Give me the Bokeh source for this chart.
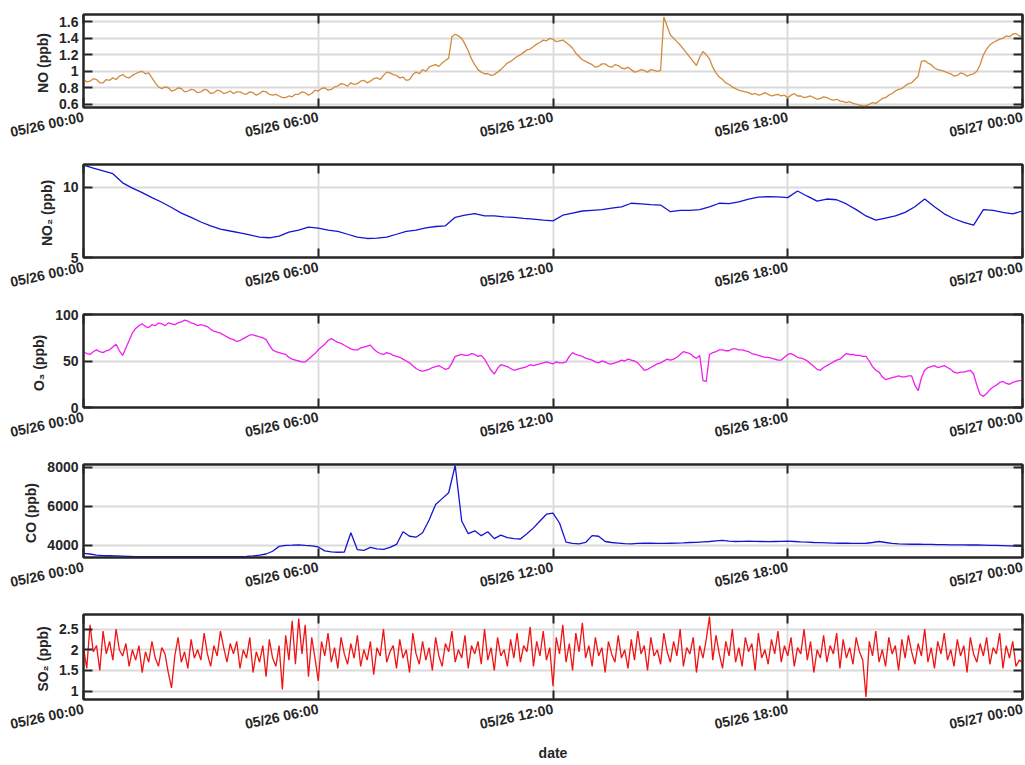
import pandas as pd
from bokeh.plotting import figure
from bokeh.layouts import column
from bokeh.models import (Range1d, FixedTicker, DatetimeAxis, LinearAxis,
                          DatetimeTickFormatter, CustomJSTickFormatter)
from bokeh.embed import file_html
from bokeh.resources import INLINE

# ---------------- data ----------------
START = "2023-05-26 00:00"
END = "2023-05-27 00:00"
X_TICKS = ["2023-05-26 00:00", "2023-05-26 06:00", "2023-05-26 12:00",
           "2023-05-26 18:00", "2023-05-27 00:00"]

# NO (ppb), every 5 minutes
no_vals = [
    0.91, 0.87, 0.88, 0.91, 0.90, 0.86, 0.86, 0.90, 0.89, 0.92, 0.90, 0.94,
    0.96, 0.93, 0.92, 0.95, 0.97, 0.99, 1.00, 0.97, 0.98, 0.92, 0.86, 0.81,
    0.79, 0.81, 0.80, 0.76, 0.77, 0.80, 0.79, 0.75, 0.76, 0.78, 0.77, 0.74,
    0.75, 0.78, 0.77, 0.73, 0.74, 0.77, 0.76, 0.73, 0.74, 0.76, 0.73, 0.75,
    0.75, 0.73, 0.72, 0.75, 0.74, 0.71, 0.73, 0.76, 0.75, 0.72, 0.71, 0.72,
    0.70, 0.68, 0.68, 0.70, 0.69, 0.72, 0.72, 0.75, 0.74, 0.71, 0.73, 0.77,
    0.76, 0.79, 0.80, 0.77, 0.78, 0.81, 0.82, 0.85, 0.84, 0.82, 0.86, 0.84,
    0.85, 0.88, 0.89, 0.86, 0.88, 0.91, 0.92, 0.90, 0.95, 0.99, 0.98, 0.96,
    0.95, 0.92, 0.93, 0.89, 0.90, 0.96, 0.99, 0.97, 1.02, 1.00, 1.05, 1.07,
    1.08, 1.06, 1.10, 1.13, 1.16, 1.42, 1.45, 1.43, 1.40, 1.33, 1.25, 1.15,
    1.08, 1.02, 0.99, 0.97, 0.97, 0.95, 0.96, 0.99, 1.02, 1.06, 1.10, 1.12,
    1.15, 1.18, 1.20, 1.23, 1.26, 1.27, 1.30, 1.33, 1.35, 1.38, 1.37, 1.40,
    1.39, 1.36, 1.37, 1.38, 1.35, 1.32, 1.28, 1.22, 1.18, 1.14, 1.12, 1.10,
    1.08, 1.05, 1.06, 1.09, 1.09, 1.06, 1.05, 1.08, 1.07, 1.04, 1.03, 1.05,
    1.02, 0.99, 1.00, 1.02, 1.01, 0.99, 1.02, 1.01, 1.00, 1.01, 1.66, 1.55,
    1.44, 1.40, 1.36, 1.32, 1.27, 1.22, 1.17, 1.12, 1.07, 1.17, 1.24, 1.20,
    1.15, 1.05, 0.98, 0.93, 0.90, 0.86, 0.84, 0.81, 0.79, 0.77, 0.76, 0.75,
    0.74, 0.72, 0.73, 0.71, 0.72, 0.74, 0.72, 0.70, 0.71, 0.72, 0.70, 0.71,
    0.68, 0.71, 0.73, 0.70, 0.70, 0.68, 0.69, 0.70, 0.68, 0.66, 0.67, 0.69,
    0.68, 0.66, 0.65, 0.66, 0.64, 0.63, 0.62, 0.63, 0.61, 0.60, 0.59, 0.58,
    0.58, 0.60, 0.62, 0.61, 0.64, 0.67, 0.68, 0.71, 0.73, 0.76, 0.78, 0.79,
    0.82, 0.85, 0.86, 0.90, 0.94, 1.12, 1.13, 1.10, 1.08, 1.04, 1.02, 1.01,
    1.00, 0.98, 0.97, 0.94, 0.95, 0.98, 0.97, 0.94, 0.96, 0.97, 1.00, 1.08,
    1.20, 1.27, 1.32, 1.35, 1.37, 1.39, 1.40, 1.43, 1.42, 1.45, 1.46, 1.43,
    1.42,
]

# NO2 (ppb), every 15 minutes
no2_vals = [
    11.55, 11.35, 11.15, 10.95,
    10.30, 9.92, 9.60, 9.25,
    8.92, 8.55, 8.15, 7.85,
    7.52, 7.25, 7.02, 6.88,
    6.75, 6.60, 6.45, 6.40,
    6.52, 6.80, 6.95, 7.15,
    7.08, 6.95, 6.85, 6.65,
    6.45, 6.35, 6.38, 6.45,
    6.65, 6.85, 6.95, 7.10,
    7.20, 7.25, 7.85, 8.00,
    8.12, 7.95, 7.95, 7.88,
    7.85, 7.78, 7.72, 7.65,
    7.60, 8.00, 8.15, 8.30,
    8.35, 8.40, 8.50, 8.60,
    8.85, 8.80, 8.75, 8.72,
    8.25, 8.35, 8.35, 8.40,
    8.60, 8.85, 8.82, 8.95,
    9.15, 9.28, 9.32, 9.30,
    9.25, 9.72, 9.35, 9.00,
    9.15, 9.10, 8.80, 8.40,
    7.95, 7.65, 7.80, 7.95,
    8.20, 8.60, 9.15, 8.60,
    8.10, 7.75, 7.50, 7.30,
    8.40, 8.35, 8.20, 8.10,
    8.30,
]

# O3 (ppb), every 5 minutes
o3_vals = [
    60, 58, 57, 60, 62, 60, 59, 61, 62, 65, 68, 61,
    56, 64, 72, 80, 85, 88, 90, 87, 86, 89, 88, 91,
    90, 88, 91, 90, 89, 91, 92, 94, 93, 91, 90, 88,
    89, 88, 87, 84, 82, 81, 80, 78, 76, 74, 73, 71,
    72, 74, 76, 78, 78, 77, 76, 75, 73, 67, 62, 60,
    59, 58, 57, 54, 52, 51, 50, 49, 49, 52, 55, 58,
    62, 65, 68, 72, 74, 72, 70, 69, 67, 65, 63, 62,
    62, 64, 65, 66, 67, 63, 60, 58, 57, 59, 58, 56,
    55, 54, 52, 50, 48, 45, 42, 40, 39, 40, 41, 43,
    44, 45, 43, 41, 42, 48, 55, 56, 57, 56, 56, 58,
    57, 55, 56, 52, 46, 40, 36, 42, 46, 45, 44, 42,
    40, 41, 42, 43, 44, 46, 45, 46, 47, 48, 49, 48,
    47, 49, 48, 48, 49, 55, 59, 57, 56, 55, 53, 52,
    51, 49, 48, 50, 49, 47, 47, 48, 49, 51, 50, 52,
    51, 50, 48, 44, 40, 41, 43, 45, 47, 48, 50, 52,
    51, 52, 54, 57, 60, 59, 58, 55, 53, 56, 29, 28,
    57, 59, 60, 62, 62, 61, 61, 63, 63, 62, 62, 61,
    60, 58, 57, 56, 55, 54, 54, 53, 52, 51, 51, 54,
    57, 58, 56, 54, 53, 52, 50, 47, 44, 41, 40, 43,
    45, 47, 49, 51, 52, 55, 58, 57, 57, 56, 56, 55,
    55, 50, 44, 40, 38, 33, 30, 31, 32, 33, 34, 33,
    33, 34, 34, 24, 18, 32, 40, 43, 44, 45, 43, 44,
    45, 43, 41, 38, 37, 38, 38, 39, 40, 36, 24, 14,
    12, 15, 19, 22, 24, 27, 28, 26, 25, 27, 28, 29,
    29,
]

# CO (ppb), every 10 minutes
co_vals = [
    3590, 3560, 3500, 3480, 3470, 3460,
    3450, 3440, 3430, 3430, 3425, 3420,
    3420, 3420, 3420, 3420, 3420, 3420,
    3420, 3420, 3420, 3425, 3420, 3420,
    3430, 3440, 3460, 3500, 3560, 3700,
    3950, 4000, 4010, 4030, 4000, 3980,
    3920, 3720, 3670, 3650, 3660, 4650,
    3780, 3750, 3900, 3820, 3800, 3900,
    4050, 4700, 4470, 4420, 4650, 5300,
    6100, 6400, 6700, 8100, 5250, 4600,
    4750, 4500, 4700, 4350, 4530, 4400,
    4350, 4330, 4600, 4900, 5250, 5600,
    5660, 5150, 4170, 4100, 4080, 4150,
    4500, 4470, 4200, 4150, 4120, 4090,
    4080, 4100, 4120, 4110, 4100, 4100,
    4110, 4120, 4130, 4150, 4160, 4180,
    4200, 4230, 4260, 4220, 4200, 4210,
    4220, 4210, 4200, 4190, 4200, 4210,
    4220, 4200, 4180, 4170, 4150, 4140,
    4130, 4120, 4110, 4110, 4100, 4100,
    4110, 4150, 4200, 4150, 4100, 4080,
    4070, 4060, 4060, 4050, 4050, 4040,
    4040, 4030, 4030, 4030, 4020, 4020,
    4010, 4000, 4000, 3990, 3980, 3970,
    3950,
]

# SO2 (ppb), every 5 minutes
so2_vals = [
    2.05, 1.55, 2.60, 1.95, 2.10, 1.50, 2.45, 1.90, 2.20, 1.75, 2.50, 2.00,
    1.85, 2.15, 1.60, 2.00, 1.75, 2.10, 1.45, 1.95, 1.70, 2.20, 1.80, 1.60,
    2.05, 1.90, 1.45, 1.08, 1.85, 2.30, 1.70, 1.95, 1.55, 2.25, 1.80, 2.00,
    1.75, 2.40, 1.90, 1.60, 2.10, 1.85, 2.45, 2.05, 1.70, 2.15, 1.90, 2.20,
    1.55, 2.00, 1.80, 2.30, 1.45, 1.95, 1.70, 2.10, 1.35, 2.25, 1.80, 1.60,
    2.10, 1.04, 2.35, 1.75, 2.70, 1.65, 2.75, 1.90, 2.60, 1.35, 2.30, 1.80,
    1.25, 2.20, 1.85, 2.40, 1.70, 2.05, 1.55, 2.30, 1.90, 1.65, 2.15, 1.80,
    2.35, 1.60, 2.00, 1.75, 2.20, 1.40, 2.05, 1.85, 2.50, 1.70, 1.95, 2.10,
    1.55, 2.25, 1.80, 2.00, 1.45, 2.40, 1.90, 1.65, 2.20, 1.75, 2.05, 1.50,
    2.30, 1.85, 1.60, 2.15, 1.95, 2.45, 1.70, 2.00, 1.80, 2.35, 1.55, 2.10,
    1.90, 2.20, 1.65, 2.50, 1.75, 2.05, 1.50, 2.30, 1.85, 2.00, 1.60, 2.25,
    1.80, 2.40, 1.70, 2.10, 1.95, 2.55, 1.60, 2.20, 1.85, 2.45, 1.75, 2.05,
    1.12, 2.30, 1.90, 2.60, 1.70, 2.15, 1.50, 2.40, 1.95, 2.65, 1.80, 2.10,
    1.60, 2.30, 1.85, 2.05, 1.45, 2.20, 1.90, 1.70, 2.35, 1.80, 2.00, 1.55,
    2.25, 1.75, 2.45, 1.90, 2.10, 1.50, 2.30, 1.85, 2.00, 1.65, 2.40, 1.95,
    1.70, 2.20, 1.85, 2.50, 1.60, 2.05, 1.90, 2.30, 1.45, 2.10, 1.80, 2.25,
    2.80, 1.75, 2.35, 1.90, 1.55, 2.20, 1.85, 2.50, 1.70, 2.05, 1.60, 2.30,
    1.95, 2.15, 1.50, 2.40, 1.80, 2.00, 1.65, 2.25, 1.90, 2.45, 1.70, 2.10,
    1.85, 2.30, 1.60, 2.05, 1.90, 2.50, 1.75, 2.20, 1.45, 2.00, 1.80, 2.35,
    1.70, 2.10, 1.90, 2.40, 1.55, 2.25, 1.80, 2.05, 1.65, 2.30, 1.95, 1.75,
    0.86, 2.20, 1.85, 2.45, 1.70, 2.00, 1.60, 2.30, 1.90, 2.10, 1.50, 2.25,
    1.80, 2.35, 1.95, 1.65, 2.15, 1.85, 2.50, 1.70, 2.05, 1.55, 2.20, 1.90,
    2.40, 1.75, 2.00, 1.60, 2.25, 1.85, 2.10, 1.45, 2.30, 1.90, 1.70, 2.15,
    1.85, 2.30, 1.65, 2.05, 1.90, 2.40, 1.55, 2.10, 1.80, 2.20, 1.60, 1.75,
    1.70,
]

NO_TICKS = [0.6, 0.8, 1, 1.2, 1.4, 1.6]
NO2_TICKS = [5, 10]
O3_TICKS = [0, 50, 100]
CO_TICKS = [4000, 6000, 8000]
SO2_TICKS = [1, 1.5, 2, 2.5]

# ---------------- drawing ----------------
t5 = pd.date_range(START, periods=len(no_vals), freq="5min")
t10 = pd.date_range(START, periods=len(co_vals), freq="10min")
t15 = pd.date_range(START, periods=len(no2_vals), freq="15min")
t5s = pd.date_range(START, periods=len(so2_vals), freq="5min")

x_ticks_ms = [pd.Timestamp(s).value // 10**6 for s in X_TICKS]
x0 = pd.Timestamp(START)
x1 = pd.Timestamp(END)

INK = "#262626"
GRID = "#dadada"
FONT = "Liberation Sans"
fmt_str = "%m/%d %H:%M"


def dt_formatter():
    return DatetimeTickFormatter(
        microseconds=fmt_str, milliseconds=fmt_str, seconds=fmt_str,
        minsec=fmt_str, minutes=fmt_str, hourmin=fmt_str, hours=fmt_str,
        days=fmt_str, months=fmt_str, years=fmt_str)


def style_axis(ax, show_labels=True):
    ax.axis_line_color = INK
    ax.axis_line_width = 2
    ax.major_tick_in = 9
    ax.major_tick_out = 0
    ax.major_tick_line_color = INK
    ax.major_tick_line_width = 2
    ax.minor_tick_line_color = None
    ax.major_label_text_font = FONT
    ax.major_label_text_font_style = "bold"
    ax.major_label_text_font_size = "14px"
    if show_labels:
        ax.major_label_text_color = INK
    else:
        ax.major_label_text_color = None
        ax.major_label_standoff = 0
    ax.axis_label_text_font = FONT
    ax.axis_label_text_font_style = "bold"
    ax.axis_label_text_color = INK
    ax.axis_label_text_font_size = "14px"


def panel(times, vals, color, y0, y1, yticks, ylabel, last=False):
    h = 163 if last else 150
    p = figure(width=1025, height=h, x_axis_type="datetime",
               output_backend="svg", toolbar_location=None,
               x_range=Range1d(x0, x1), y_range=Range1d(y0, y1),
               min_border_left=83, min_border_right=3, min_border_top=14,
               min_border_bottom=h - 14 - 94)
    p.line(times, vals, color=color, line_width=1.3)

    p.outline_line_color = INK
    p.outline_line_width = 2
    p.outline_line_alpha = 1.0
    p.background_fill_color = "white"
    p.border_fill_color = "white"

    p.xaxis.ticker = FixedTicker(ticks=x_ticks_ms)
    p.xaxis.formatter = dt_formatter()
    p.yaxis.ticker = FixedTicker(ticks=yticks)
    p.yaxis.formatter = CustomJSTickFormatter(code="return String(tick)")
    style_axis(p.xaxis[0])
    style_axis(p.yaxis[0])
    p.xaxis.major_label_orientation = 0.21
    p.xaxis.major_label_standoff = 9
    p.yaxis.axis_label = ylabel
    p.yaxis.axis_label_standoff = 5
    p.yaxis.major_label_standoff = 5
    if last:
        p.xaxis.axis_label = "date"
        p.xaxis.axis_label_standoff = 2

    top = DatetimeAxis(ticker=FixedTicker(ticks=x_ticks_ms), formatter=dt_formatter())
    style_axis(top, show_labels=False)
    p.add_layout(top, "above")
    right = LinearAxis(ticker=FixedTicker(ticks=yticks))
    style_axis(right, show_labels=False)
    p.add_layout(right, "right")

    p.xgrid.ticker = FixedTicker(ticks=x_ticks_ms)
    p.ygrid.ticker = FixedTicker(ticks=yticks)
    for g in (p.xgrid, p.ygrid):
        g.grid_line_color = GRID
        g.grid_line_width = 1.8
    return p


p1 = panel(t5, no_vals, "#D38B3E", 0.56, 1.69, NO_TICKS, "NO  (ppb)")
p2 = panel(t15, no2_vals, "#1414D2", 5, 11.6, NO2_TICKS, "NO\u2082  (ppb)")
p3 = panel(t5, o3_vals, "#F01EF0", 0, 100, O3_TICKS, "O\u2083  (ppb)")
p4 = panel(t10, co_vals, "#1414D2", 3380, 8150, CO_TICKS, "CO  (ppb)")
p5 = panel(t5s, so2_vals, "#F01414", 0.8, 2.85, SO2_TICKS, "SO\u2082  (ppb)", last=True)

layout = column(p1, p2, p3, p4, p5, spacing=0)
open("out.html", "w").write(file_html(layout, INLINE))
